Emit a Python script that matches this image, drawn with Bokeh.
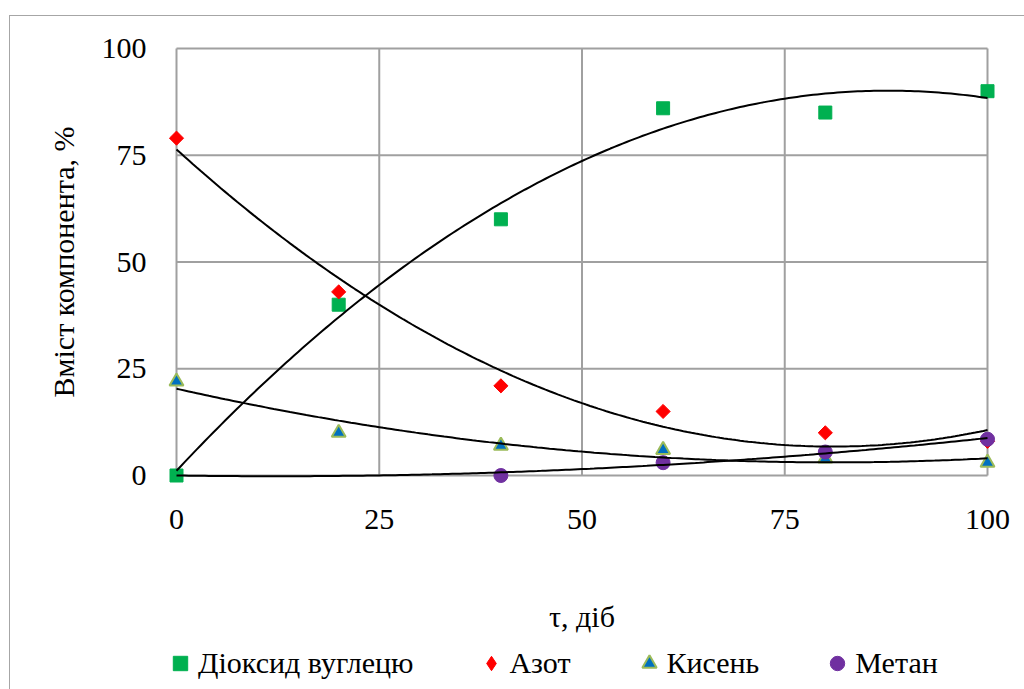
import numpy as np
from bokeh.plotting import figure
from bokeh.layouts import column
from bokeh.models import Range1d, FixedTicker, Legend, LegendItem
from bokeh.embed import file_html
from bokeh.resources import INLINE

# Measurements: gas composition over time
days = [0, 20, 40, 60, 80, 100]
co2 = [0, 40, 60, 86, 85, 90]
n2 = [79, 43, 21, 15, 10, 8]
o2 = [22, 10, 7, 6, 4, 3]
ch4 = [np.nan, np.nan, 0, 3, 5.5, 8.5]
ticks = [0, 25, 50, 75, 100]

names = ["Діоксид вуглецю", "Азот", "Кисень", "Метан"]

FONT = "'Liberation Serif', 'Times New Roman', serif"
GRID = "#A0A0A0"

# Frame: 811 x 427 px for 0..100, with a 10 px margin so edge markers are not cut
PAD_PX = 10
padx = PAD_PX * 100 / 811
pady = PAD_PX * 100 / 427

BORDER_L, BORDER_R = 156, 28

p = figure(width=1015, height=628,
           x_range=Range1d(-padx, 100 + padx), y_range=Range1d(-pady, 100 + pady),
           output_backend="svg", toolbar_location=None,
           min_border_left=BORDER_L, min_border_right=BORDER_R,
           min_border_top=22, min_border_bottom=159,
           outline_line_color=None, background_fill_color="white",
           border_fill_color="white")
p.xgrid.visible = False
p.ygrid.visible = False

# Plot-area grid and box, bounded to 0..100
lo, hi = ticks[0], ticks[-1]
p.segment(x0=ticks, y0=[lo] * len(ticks), x1=ticks, y1=[hi] * len(ticks),
          line_color=GRID, line_width=2)
p.segment(x0=[lo] * len(ticks), y0=ticks, x1=[hi] * len(ticks), y1=ticks,
          line_color=GRID, line_width=2)

for ax in (p.xaxis[0], p.yaxis[0]):
    ax.ticker = FixedTicker(ticks=ticks)
    ax.axis_line_color = None
    ax.major_tick_line_color = None
    ax.minor_tick_line_color = None
    ax.major_label_text_font = FONT
    ax.major_label_text_font_size = "30px"
    ax.major_label_text_color = "black"
    ax.axis_label_text_font = FONT
    ax.axis_label_text_font_size = "30px"
    ax.axis_label_text_font_style = "normal"
    ax.axis_label_text_color = "black"

p.xaxis.axis_label = "τ, діб"
p.yaxis.axis_label = "Вміст компонента, %"
p.xaxis.major_label_standoff = 18
p.xaxis.axis_label_standoff = 68
p.yaxis.major_label_standoff = 14
p.yaxis.axis_label_standoff = 19

styles = [
    dict(marker="square", fill_color="#00B050", line_color="#00B050"),
    dict(marker="diamond", fill_color="#FF0000", line_color="#FF0000"),
    dict(marker="triangle", fill_color="#0070C0", line_color="#9BBB59", line_width=2),
    dict(marker="circle", fill_color="#7030A0", line_color="#7030A0"),
]

p.scatter(days, co2, size=13, **styles[0])
p.scatter(days, n2, size=10, angle=np.pi / 4,
          **dict(styles[1], marker="square"))
p.scatter(days, o2, size=14, **styles[2])
p.scatter(days, ch4, size=14, **styles[3])

# Polynomial (order 2) trend lines fitted to each series
xs = np.linspace(lo, hi, 201)
x_arr = np.array(days, dtype=float)
for series in (co2, n2, o2):
    coef = np.polyfit(x_arr, np.array(series, dtype=float), 2)
    p.line(xs, np.polyval(coef, xs), line_color="black", line_width=2)

# Methane: order-2 trend with intercept fixed at zero
y_m = np.array(ch4, dtype=float)
ok = ~np.isnan(y_m)
A = np.column_stack([x_arr[ok], x_arr[ok] ** 2])
b, c = np.linalg.lstsq(A, y_m[ok], rcond=None)[0]
p.line(xs, b * xs + c * xs ** 2, line_color="black", line_width=2)

# Legend strip below the chart
leg = figure(width=1015, height=46, x_range=Range1d(0, 1), y_range=Range1d(0, 1),
             x_axis_type=None, y_axis_type=None,
             output_backend="svg", toolbar_location=None,
             min_border_left=BORDER_L, min_border_right=BORDER_R,
             min_border_top=0, min_border_bottom=0,
             outline_line_color=None, background_fill_color="white",
             border_fill_color="white")
leg.grid.visible = False
items = []
for name, st in zip(names, styles):
    r = leg.scatter(x=[np.nan], y=[np.nan], **st)
    items.append(LegendItem(label=name, renderers=[r]))
legend = Legend(items=items, orientation="horizontal", location=(-4, 9),
                glyph_width=36, glyph_height=36, label_height=34, label_standoff=0,
                spacing=60, padding=0, margin=0,
                border_line_alpha=0, background_fill_alpha=0,
                label_text_font=FONT, label_text_font_size="30px",
                label_text_color="black")
leg.add_layout(legend)

page = column(p, leg, spacing=0, margin=(15, 0, 0, 9),
              styles={"border-top": "1px solid #A6A6A6",
                      "border-left": "1px solid #A6A6A6"})

open("out.html", "w").write(file_html(page, INLINE))
